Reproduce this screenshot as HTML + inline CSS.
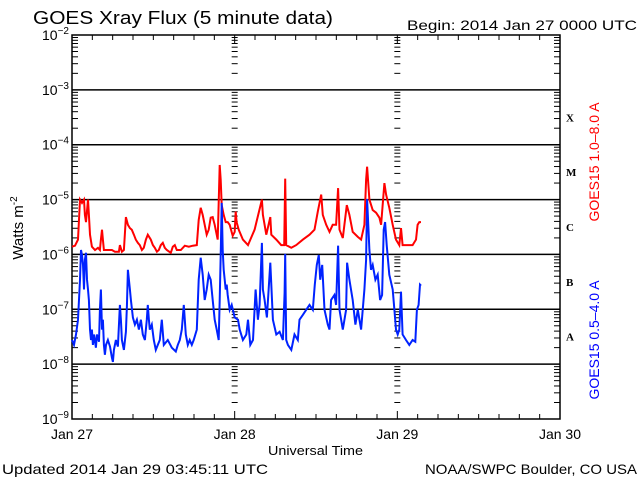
<!DOCTYPE html>
<html><head><meta charset="utf-8"><style>
html,body{margin:0;padding:0;background:#fff;}
svg{display:block;font-family:"Liberation Sans",sans-serif;}
</style></head><body>
<svg id="chart" width="640" height="480" viewBox="0 0 640 480" xmlns="http://www.w3.org/2000/svg">
<text x="33" y="24" font-size="18" textLength="300" lengthAdjust="spacingAndGlyphs">GOES Xray Flux (5 minute data)</text>
<text x="407" y="30" font-size="14" textLength="230" lengthAdjust="spacingAndGlyphs">Begin:  2014 Jan 27 0000 UTC</text>
<text transform="translate(23,228) rotate(-90)" font-size="15" text-anchor="middle">Watts m<tspan dy="-6" font-size="10">-2</tspan></text>
<text x="268" y="455" font-size="13" textLength="95" lengthAdjust="spacingAndGlyphs">Universal Time</text>
<text x="2" y="474" font-size="14" textLength="266" lengthAdjust="spacingAndGlyphs">Updated 2014 Jan 29 03:45:11 UTC</text>
<text x="425" y="474" font-size="14" textLength="212" lengthAdjust="spacingAndGlyphs">NOAA/SWPC Boulder, CO USA</text>
<text transform="translate(599,162) rotate(-90)" font-size="14" fill="#ff0000" text-anchor="middle">GOES15 1.0–8.0 A</text>
<text transform="translate(599,340) rotate(-90)" font-size="14" fill="#0000ff" text-anchor="middle">GOES15 0.5–4.0 A</text>
<g id="axes"></g>
<g id="series"></g>
</svg>
<script>
const decades = [-2,-3,-4,-5,-6,-7,-8,-9];
const dayLabels = ["Jan 27","Jan 28","Jan 29","Jan 30"];
const flareClasses = ["X","M","C","B","A"];
const flareClassLogs = [-3.5,-4.5,-5.5,-6.5,-7.5];
const longHours = [0,0.44,0.88,1.18,1.47,1.77,1.91,2.06,2.36,2.5,2.65,2.94,3.39,3.83,4.12,4.27,4.42,4.56,4.71,5.3,5.89,6.33,6.92,7.07,7.36,7.66,7.95,8.25,8.54,8.83,9.13,9.42,9.72,10.01,10.31,10.6,10.9,11.19,11.63,11.93,12.22,12.52,12.81,13.1,13.4,13.69,13.99,14.58,14.87,15.17,15.46,16.05,16.64,17.23,17.82,18.41,18.7,18.99,19.29,19.58,19.88,20.17,20.47,20.76,21.06,21.35,21.5,21.79,21.94,22.09,22.38,22.68,22.97,23.26,23.71,24,24.15,24.29,24.59,25.22,25.96,26.94,28.02,28.17,28.66,29.26,29.4,30.14,30.87,31.31,31.46,31.61,32.35,33.08,34.06,35.04,35.78,36.27,36.77,37,37.5,37.99,38.47,38.97,39.26,39.46,39.95,40.54,40.93,41.42,42.16,42.65,43.14,43.39,43.54,43.88,44.36,44.86,45.35,45.6,46.09,46.34,46.82,47.31,47.81,48.29,48.54,48.78,49.52,50.25,50.75,50.99,51.24,51.49];
const longLogFlux = [-5.86,-5.84,-5.73,-5.00,-5.06,-5.00,-5.28,-5.41,-5.00,-5.28,-5.64,-5.86,-5.92,-5.88,-5.92,-5.73,-5.55,-5.73,-5.92,-5.92,-5.92,-5.95,-5.95,-5.83,-5.95,-5.92,-5.32,-5.46,-5.52,-5.55,-5.64,-5.73,-5.79,-5.83,-5.92,-5.88,-5.73,-5.64,-5.73,-5.83,-5.88,-5.95,-5.92,-5.83,-5.79,-5.88,-5.92,-5.97,-5.86,-5.83,-5.92,-5.92,-5.84,-5.86,-5.84,-5.83,-5.37,-5.15,-5.28,-5.46,-5.64,-5.55,-5.33,-5.32,-5.46,-5.64,-5.73,-4.37,-4.64,-5.10,-5.28,-5.41,-5.41,-5.46,-5.66,-5.59,-5.22,-5.41,-5.55,-5.73,-5.83,-5.55,-5.00,-5.28,-5.64,-5.32,-5.64,-5.73,-5.83,-5.83,-4.62,-5.83,-5.88,-5.83,-5.73,-5.64,-5.55,-5.22,-4.91,-5.28,-5.46,-5.59,-5.46,-5.46,-4.79,-5.55,-5.70,-5.10,-5.28,-5.59,-5.68,-5.73,-5.46,-4.64,-4.40,-5.00,-5.19,-5.24,-5.33,-5.46,-4.70,-4.91,-5.15,-5.46,-5.73,-5.83,-5.52,-5.83,-5.83,-5.83,-5.73,-5.46,-5.41,-5.41];
const shortHours = [0,0.29,0.59,0.88,1.18,1.33,1.47,1.62,1.77,1.91,2.06,2.21,2.36,2.5,2.65,2.8,2.94,3.09,3.24,3.53,3.68,3.98,4.12,4.27,4.42,4.56,4.71,4.86,5.01,5.3,5.6,5.89,6.04,6.18,6.48,6.77,7.07,7.21,7.36,7.66,7.95,8.1,8.25,8.54,8.69,8.98,9.28,9.57,9.87,10.16,10.45,10.75,11.04,11.19,11.34,11.48,11.78,12.07,12.37,12.66,12.96,13.25,13.55,14.14,14.72,15.31,15.61,15.9,16.2,16.49,16.79,17.08,17.37,17.67,17.96,18.41,18.7,18.99,19.29,19.58,19.88,20.17,20.47,20.76,21.06,21.35,21.64,21.79,21.94,22.09,22.23,22.38,22.68,22.82,22.97,23.26,23.56,24.0,24.49,24.74,25.22,25.72,25.96,26.31,26.7,27.09,27.43,27.68,28.02,28.17,28.42,28.76,29.26,29.64,30.14,30.63,31.11,31.36,31.46,31.61,31.85,32.35,32.83,33.32,33.57,34.06,34.56,35.04,35.53,35.83,36.12,36.41,36.62,36.91,37.25,37.74,37.99,38.23,38.72,38.97,39.26,39.46,39.95,40.44,40.59,40.93,41.42,41.82,42.16,42.65,43.14,43.39,43.54,43.88,44.12,44.36,44.76,45.1,45.45,45.75,45.99,46.19,46.43,46.82,47.31,47.56,47.81,48.05,48.29,48.54,48.78,49.28,49.76,50.25,50.65,50.89,51.14,51.34,51.49];
const shortLogFlux = [-7.56,-7.65,-7.46,-7.19,-6.46,-5.92,-6.01,-6.19,-6.64,-6.10,-5.97,-6.46,-6.64,-6.83,-7.37,-7.56,-7.37,-7.65,-7.46,-7.70,-7.46,-7.59,-7.01,-6.64,-7.37,-7.19,-7.65,-7.83,-7.65,-7.56,-7.68,-7.88,-7.96,-7.74,-7.56,-7.68,-6.92,-7.19,-7.56,-7.74,-7.41,-6.95,-6.28,-6.64,-6.83,-7.15,-7.28,-7.19,-7.37,-7.19,-7.46,-7.56,-7.19,-6.92,-7.19,-7.37,-7.28,-7.56,-7.74,-7.65,-7.56,-7.19,-7.65,-7.56,-7.70,-7.77,-7.65,-7.56,-7.37,-6.92,-7.46,-7.65,-7.56,-7.65,-7.56,-7.37,-6.46,-6.06,-6.37,-6.83,-6.64,-6.37,-6.46,-6.83,-7.19,-7.37,-7.56,-6.83,-6.01,-5.06,-5.92,-6.28,-6.64,-6.55,-6.74,-7.01,-6.92,-7.15,-7.19,-7.37,-7.56,-7.46,-7.19,-7.65,-7.56,-6.64,-7.19,-6.92,-5.79,-6.64,-6.83,-7.15,-6.15,-7.19,-7.46,-7.41,-7.56,-6.70,-5.99,-7.56,-7.65,-7.74,-7.46,-7.56,-7.19,-7.10,-7.01,-6.92,-7.01,-6.55,-6.19,-6.01,-6.46,-6.19,-7.01,-7.28,-7.37,-6.83,-6.74,-6.92,-5.84,-7.01,-7.37,-7.01,-6.15,-6.46,-6.83,-7.28,-7.01,-7.37,-6.64,-6.10,-4.99,-5.92,-6.28,-6.19,-6.46,-6.37,-6.83,-6.74,-5.55,-5.41,-5.83,-6.37,-6.64,-7.01,-7.37,-7.46,-7.37,-6.68,-7.46,-7.56,-7.65,-7.56,-7.59,-7.01,-6.92,-6.55,-6.57];

const L=72,R=560,T=35,B=419;
const xScale=h=>L+(R-L)*h/72;
const yScale=v=>T+(B-T)*(-2-v)/7;
const NS="http://www.w3.org/2000/svg";
const axes=document.getElementById('axes');
const series=document.getElementById('series');
function mk(tag,attrs,parent){const e=document.createElementNS(NS,tag);for(const k in attrs)e.setAttribute(k,attrs[k]);parent.appendChild(e);return e;}

const frame=mk('rect',{x:L,y:T,width:R-L,height:B-T,fill:'none',stroke:'#000','stroke-width':1.5},axes);



decades.forEach((d,i)=>{
  const y=yScale(d);
  if(i>0&&i<decades.length-1){
    const gl=mk('line',{x1:L,x2:R,y1:y,y2:y,stroke:'#000','stroke-width':1.5},axes);
    
    
  }
  const t=mk('text',{x:L-30,y:y+5,'font-size':14},axes);
  
  
  t.textContent='10';
  const s=mk('tspan',{dy:-6,'font-size':10},t);
  s.textContent=String(d).replace('-','−');
  if(i<decades.length-1){
    for(let m=2;m<=9;m++){
      const ym=yScale(d-1+Math.log10(m));
      [[L,L+6],[R-6,R],[xScale(24)-3,xScale(24)+3],[xScale(48)-3,xScale(48)+3]].forEach(p=>{
        const tk=mk('line',{x1:p[0],x2:p[1],y1:ym,y2:ym,stroke:'#000','stroke-width':1},axes);
        
        
      });
    }
  }
});
for(let h=0;h<=72;h+=3){
  const x=xScale(h);const len=h%24===0?8:5;
  const a=mk('line',{x1:x,x2:x,y1:B,y2:B-len,stroke:'#000','stroke-width':1},axes);
  
  
  const b=mk('line',{x1:x,x2:x,y1:T,y2:T+len,stroke:'#000','stroke-width':1},axes);
  
  
}
dayLabels.forEach((lab,i)=>{
  const t=mk('text',{x:xScale(i*24),y:439,'font-size':14,'text-anchor':'middle'},axes);
  
  
  t.textContent=lab;
});
flareClasses.forEach((c,i)=>{
  const t=mk('text',{x:566,y:yScale(flareClassLogs[i])+4,'font-size':11,'font-weight':'bold','font-family':'Liberation Serif, serif'},axes);
  
  
  t.textContent=c;
});
function linePath(hs,vs){
  let d='';
  for(let i=0;i<hs.length;i++){
    const x=xScale(hs[i]).toFixed(1),y=yScale(vs[i]).toFixed(1);
    d+=(i===0?'M':'L')+x+' '+y;
  }
  return d;
}
const pl=mk('path',{d:linePath(longHours,longLogFlux),fill:'none',stroke:'#ff0000','stroke-width':2,'stroke-linejoin':'miter'},series);


const ps=mk('path',{d:linePath(shortHours,shortLogFlux),fill:'none',stroke:'#0022ff','stroke-width':2,'stroke-linejoin':'miter'},series);


</script>
</body></html>
